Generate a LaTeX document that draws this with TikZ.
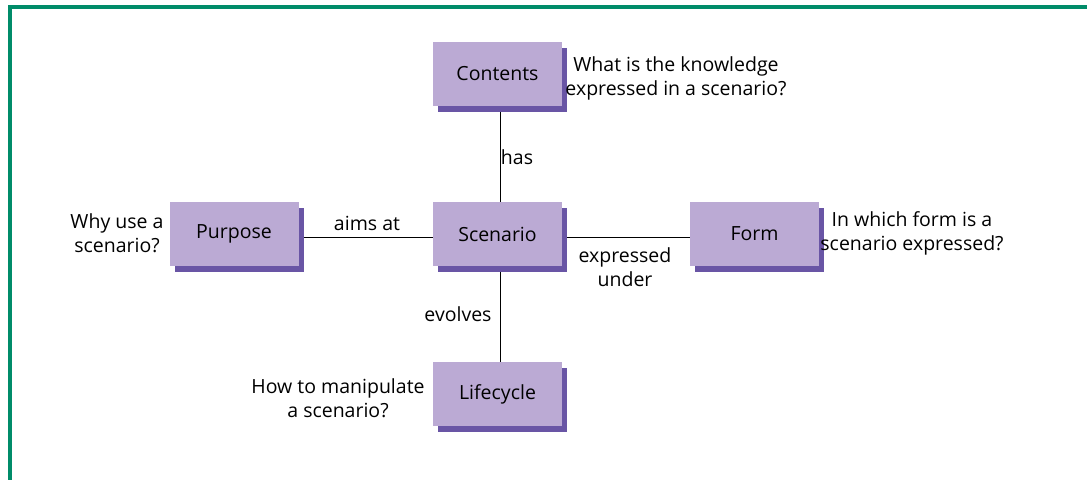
\documentclass[tikz,border=0pt]{standalone}
\usepackage{fontspec}
\setmainfont{Open Sans}
\usetikzlibrary{backgrounds}
\definecolor{frame}{RGB}{0,140,105}
\definecolor{boxfill}{RGB}{187,170,212}
\definecolor{boxshadow}{RGB}{105,85,165}
\tikzset{
  box/.style={fill=boxfill, minimum width=129pt, minimum height=64pt, inner sep=0pt,
    font=\fontsize{19.5}{22}\selectfont,
    preaction={fill=boxshadow, transform canvas={shift={(5pt,-6pt)}}}},
  lbl/.style={font=\fontsize{19.5}{24}\selectfont, align=center, inner sep=0pt},
  conn/.style={draw=black, line width=1pt}
}
\begin{document}
\begin{tikzpicture}[x=1pt,y=-1pt]
\useasboundingbox (0,0) rectangle (1087,480);
\fill[frame] (8,5) rectangle (1087,9);
\fill[frame] (8,5) rectangle (12,480);

\node[box] (cont) at (497.5,74) {Contents};
\node[box] (scen) at (497.5,234) {Scenario};
\node[box] (purp) at (234,234) {Purpose};
\node[box] (form) at (754.5,234) {Form};
\node[box] (life) at (497.5,394) {Lifecycle};

\begin{scope}[on background layer]
\draw[conn] ([shift={(2.5,3)}]cont.center) -- ([shift={(2.5,3)}]scen.center);
\draw[conn] ([shift={(2.5,3)}]scen.center) -- ([shift={(2.5,3)}]life.center);
\draw[conn] ([shift={(2.5,3)}]purp.center) -- ([shift={(2.5,3)}]scen.center);
\draw[conn] ([shift={(2.5,3)}]scen.center) -- ([shift={(2.5,3)}]form.center);
\end{scope}

\node[lbl] (has) at (517,157) {has};
\node[lbl] (aims) at (367,223) {aims at};
\node[lbl] (expr) at (625,267) {expressed\\under};
\node[lbl] (evol) at (458,314) {evolves};

\node[lbl] (qcont) at (676,78) {What is the knowledge\\expressed in a scenario?};
\node[lbl] (qpurp) at (117,233) {Why use a\\scenario?};
\node[lbl] (qform) at (912,233) {In which form is a\\scenario expressed?};
\node[lbl] (qlife) at (338,398) {How to manipulate\\a scenario?};
\end{tikzpicture}
\end{document}
